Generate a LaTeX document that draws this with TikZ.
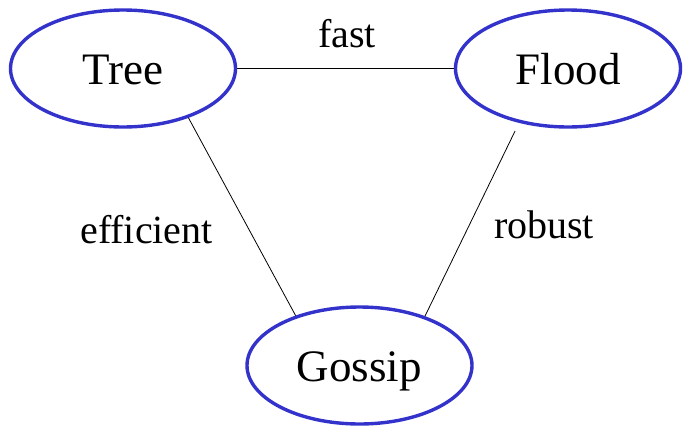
\documentclass[tikz,border=0pt]{standalone}
\usepackage{fontspec}
\setmainfont{Liberation Serif}[Ligatures={TeX,NoCommon}]
\usetikzlibrary{shapes.geometric}
\definecolor{ringblue}{RGB}{51,51,204}
\begin{document}
\begin{tikzpicture}[x=1pt,y=-1pt,
  algo/.style={ellipse, draw=ringblue, line width=3.4pt, inner sep=0pt,
    minimum width=225pt, minimum height=117pt,
    text height=31pt, text depth=0pt,
    font=\fontsize{45}{54}\selectfont},
  tag/.style={anchor=base, inner sep=0pt, font=\fontsize{40}{48}\selectfont},
  link/.style={draw=black, line width=0.8pt}]
\useasboundingbox (0,0) rectangle (683,426);
\node[algo] (Tree) at (123,68.5) {Tree};
\node[algo] (Flood) at (568,68.5) {Flood};
\node[algo] (Gossip) at (359.5,365.5) {Gossip};
\node[tag] (fast) at (347,47) {fast};
\node[tag] (efficient) at (146.5,243) {efficient};
\node[tag] (robust) at (544,238) {robust};
\draw[link] (Tree.east) -- (Flood.west);
\draw[link] (Tree.-37.3) -- (Gossip.142.6);
\draw[link, shorten <=9pt] (Flood.-132) -- (Gossip.37.1);
\end{tikzpicture}
\end{document}
